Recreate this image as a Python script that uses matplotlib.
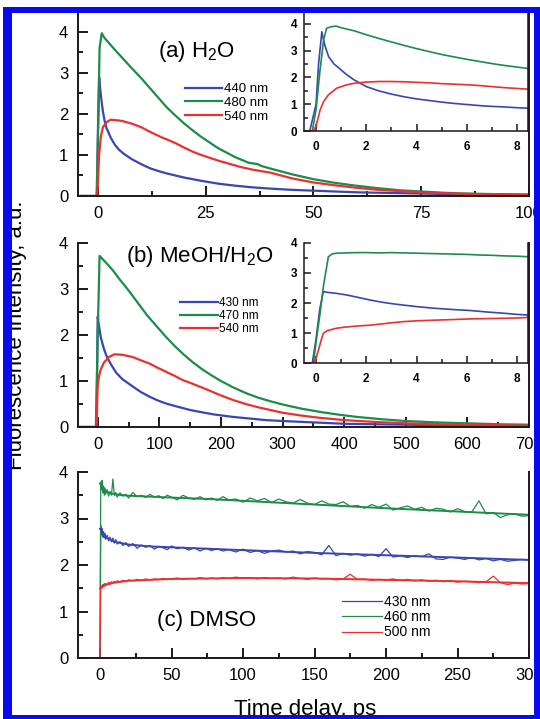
import matplotlib.pyplot as plt
from matplotlib.patches import Rectangle
from matplotlib.ticker import MultipleLocator

plt.rcParams['font.family'] = ['Liberation Sans', 'DejaVu Sans']
plt.rcParams['mathtext.fontset'] = 'custom'
plt.rcParams['mathtext.rm'] = 'Liberation Sans'
plt.rcParams['mathtext.it'] = 'Liberation Sans:italic'

BLUE = '#3846b4'
GREEN = '#1e8c48'
RED = '#ea3030'

# (a) H2O, full decay
a_t_440 = [-4, -0.2, 0, 0.3, 0.6, 0.9, 1.2, 1.6, 2, 3, 4, 5, 6, 8, 10, 12, 14, 16, 18, 20,
           24, 28, 32, 36, 40, 45, 50, 55, 60, 65, 70, 80, 90, 100]
a_440 = [0, 0, 1.5, 2.9, 2.55, 2.28, 2.05, 1.82, 1.66, 1.42, 1.24, 1.12, 1.03, 0.89, 0.78, 0.68,
         0.61, 0.55, 0.5, 0.45, 0.37, 0.3, 0.25, 0.21, 0.18, 0.15, 0.13, 0.11, 0.09, 0.08, 0.07,
         0.05, 0.04, 0.03]
a_t_480 = [-4, -0.3, 0, 0.4, 0.9, 1.5, 2.5, 4, 6, 8, 10, 12, 14, 16, 18, 20, 22, 24, 26, 28,
           30, 32, 35, 37, 38, 40, 45, 50, 55, 60, 65, 70, 75, 80, 85, 90, 95, 100]
a_480 = [0, 0, 1.2, 3.6, 3.97, 3.86, 3.74, 3.56, 3.33, 3.1, 2.88, 2.64, 2.4, 2.16, 1.96, 1.77,
         1.6, 1.44, 1.3, 1.16, 1.05, 0.94, 0.81, 0.78, 0.73, 0.67, 0.53, 0.41, 0.32, 0.25, 0.19,
         0.14, 0.11, 0.08, 0.06, 0.05, 0.04, 0.03]
a_t_540 = [-4, -0.2, 0, 0.3, 0.7, 1.2, 2, 3, 4, 5, 6, 8, 10, 12, 14, 15, 16, 18, 20, 22, 24,
           26, 28, 30, 33, 36, 40, 45, 50, 55, 60, 65, 70, 75, 80, 90, 100]
a_540 = [0, 0, 0.3, 1.0, 1.45, 1.68, 1.8, 1.86, 1.85, 1.84, 1.82, 1.76, 1.68, 1.57, 1.47, 1.42,
         1.38, 1.29, 1.18, 1.08, 1.0, 0.93, 0.86, 0.8, 0.71, 0.64, 0.57, 0.43, 0.33, 0.26, 0.2,
         0.15, 0.12, 0.09, 0.07, 0.04, 0.03]

# (a) inset, first 8 ps
ai_t_440 = [-0.5, -0.25, 0, 0.1, 0.23, 0.35, 0.5, 0.7, 0.9, 1.2, 1.5, 2, 2.5, 3, 3.5, 4, 4.5,
            5, 5.5, 6, 6.5, 7, 7.5, 8, 8.5]
ai_440 = [0, 0, 1.0, 2.5, 3.71, 3.2, 2.78, 2.52, 2.36, 2.12, 1.92, 1.66, 1.5, 1.38, 1.28, 1.2,
          1.14, 1.08, 1.03, 0.99, 0.95, 0.92, 0.9, 0.87, 0.85]
ai_t_480 = [-0.5, -0.15, 0, 0.15, 0.3, 0.42, 0.6, 0.8, 1, 1.5, 2, 2.5, 3, 3.5, 4, 4.5, 5, 5.5,
            6, 6.5, 7, 7.5, 8, 8.5]
ai_480 = [0, 0, 0.8, 2.2, 3.4, 3.84, 3.9, 3.92, 3.86, 3.75, 3.6, 3.46, 3.33, 3.2, 3.08, 2.97,
          2.86, 2.77, 2.68, 2.6, 2.52, 2.45, 2.39, 2.33]
ai_t_540 = [-0.5, -0.1, 0, 0.1, 0.16, 0.3, 0.49, 0.82, 1.2, 1.5, 2, 2.5, 3, 3.5, 4, 4.5, 5, 5.5,
            6, 6.5, 7, 7.5, 8, 8.5]
ai_540 = [0, 0, 0.2, 0.55, 0.78, 1.1, 1.35, 1.6, 1.72, 1.78, 1.83, 1.85, 1.85, 1.84, 1.82, 1.8,
          1.77, 1.75, 1.73, 1.7, 1.66, 1.62, 1.59, 1.56]

# (b) MeOH/H2O
b_t_430 = [-30, -2, 0, 2, 5, 10, 15, 22, 30, 40, 57, 70, 84, 97, 111, 130, 150, 165, 190, 219,
           250, 273, 300, 350, 400, 450, 500, 600, 700]
b_430 = [0, 0, 2.4, 2.2, 1.95, 1.7, 1.52, 1.35, 1.18, 1.04, 0.88, 0.76, 0.66, 0.58, 0.51, 0.44,
         0.37, 0.33, 0.27, 0.22, 0.18, 0.15, 0.13, 0.1, 0.07, 0.06, 0.05, 0.03, 0.02]
b_t_470 = [-30, -3, 0, 3, 8, 15, 25, 35, 50, 65, 80, 95, 110, 125, 140, 155, 170, 185, 200, 220,
           240, 260, 280, 300, 330, 360, 390, 420, 460, 500, 550, 600, 650, 700]
b_470 = [0, 0, 2.0, 3.72, 3.65, 3.55, 3.4, 3.22, 2.97, 2.7, 2.43, 2.2, 1.97, 1.76, 1.57, 1.4,
         1.25, 1.12, 1.0, 0.86, 0.74, 0.64, 0.56, 0.49, 0.4, 0.33, 0.27, 0.22, 0.17, 0.13, 0.1,
         0.08, 0.06, 0.05]
b_t_540 = [-30, -2, 0, 2, 5, 10, 18, 27, 40, 57, 70, 84, 97, 111, 125, 138, 152, 165, 180, 192,
           205, 219, 240, 260, 280, 300, 330, 360, 400, 450, 500, 550, 600, 650, 700]
b_540 = [0, 0, 0.9, 1.1, 1.25, 1.4, 1.52, 1.58, 1.57, 1.52, 1.45, 1.38, 1.29, 1.2, 1.11, 1.02,
         0.95, 0.88, 0.8, 0.73, 0.66, 0.59, 0.5, 0.43, 0.37, 0.31, 0.25, 0.2, 0.15, 0.11, 0.08,
         0.06, 0.05, 0.04, 0.03]

# (b) inset
bi_t_430 = [-0.5, -0.15, 0, 0.15, 0.29, 0.5, 0.82, 1.2, 1.6, 2.15, 2.6, 3, 3.48, 4, 4.5, 4.8,
            5.5, 6.14, 6.8, 7.46, 8, 8.45]
bi_430 = [0, 0, 0.8, 1.8, 2.38, 2.35, 2.32, 2.27, 2.2, 2.1, 2.03, 1.98, 1.93, 1.88, 1.84, 1.82,
          1.78, 1.75, 1.7, 1.66, 1.62, 1.6]
bi_t_470 = [-0.5, -0.1, 0, 0.16, 0.3, 0.49, 0.65, 0.82, 1.2, 1.6, 2, 2.5, 3, 3.5, 4, 4.5, 5,
            5.5, 6, 6.5, 7, 7.5, 8, 8.5]
bi_470 = [0, 0, 0.7, 1.66, 2.6, 3.54, 3.64, 3.66, 3.67, 3.68, 3.68, 3.67, 3.68, 3.67, 3.66, 3.65,
          3.64, 3.63, 3.62, 3.6, 3.59, 3.57, 3.56, 3.54]
bi_t_540 = [-0.5, -0.1, 0, 0.1, 0.2, 0.29, 0.45, 0.82, 1.2, 1.6, 2.15, 2.8, 3.48, 4.1, 4.8, 5.5,
            6.14, 6.8, 7.46, 8, 8.45]
bi_540 = [0, 0, 0.15, 0.45, 0.75, 0.99, 1.08, 1.16, 1.2, 1.23, 1.26, 1.32, 1.38, 1.41, 1.43, 1.45,
          1.47, 1.48, 1.49, 1.5, 1.52]

# (c) DMSO, measured traces
c_t = [-15, -1, 0, 0.5, 1, 1.5, 2, 2.5, 3, 3.5,
       4, 5, 6, 7, 8, 9, 10, 11, 12, 14,
       16, 18, 20, 23, 26, 29, 32, 35, 38, 41,
       44, 47, 50, 54, 58, 62, 66, 70, 74, 78,
       82, 86, 90, 95, 100, 105, 110, 115, 120, 125,
       130, 135, 140, 145, 150, 155, 160, 165, 170, 175,
       180, 185, 190, 195, 200, 205, 210, 215, 220, 225,
       230, 235, 240, 245, 250, 255, 260, 265, 270, 275,
       280, 285, 290, 295, 300]
c_430 = [0, 0, 0, 2.85, 2.65, 2.78, 2.6, 2.72, 2.58, 2.68,
         2.55, 2.64, 2.52, 2.6, 2.5, 2.58, 2.47, 2.55, 2.45, 2.5,
         2.42, 2.48, 2.4, 2.46, 2.36, 2.43, 2.38, 2.42, 2.34, 2.4,
         2.37, 2.33, 2.41, 2.35, 2.38, 2.32, 2.37, 2.3, 2.36, 2.31,
         2.35, 2.3, 2.33, 2.28, 2.34, 2.27, 2.31, 2.25, 2.3, 2.32,
         2.28, 2.3, 2.24, 2.29, 2.27, 2.22, 2.42, 2.2, 2.25, 2.21,
         2.24, 2.19, 2.23, 2.18, 2.35, 2.17, 2.2, 2.16, 2.2, 2.18,
         2.24, 2.13, 2.12, 2.17, 2.15, 2.12, 2.16, 2.11, 2.14, 2.09,
         2.12, 2.08, 2.1, 2.12, 2.11]
c_460 = [0, 0, 0, 3.78, 3.62, 3.82, 3.55, 3.7, 3.5, 3.66,
         3.52, 3.62, 3.48, 3.58, 3.5, 3.85, 3.5, 3.56, 3.46, 3.55,
         3.48, 3.52, 3.44, 3.56, 3.47, 3.5, 3.45, 3.52, 3.46, 3.49,
         3.43, 3.5, 3.46, 3.4, 3.5, 3.44, 3.41, 3.47, 3.4, 3.44,
         3.39, 3.47, 3.4, 3.42, 3.35, 3.44, 3.38, 3.43, 3.34, 3.42,
         3.36, 3.33, 3.41, 3.33, 3.3, 3.38, 3.31, 3.3, 3.36, 3.26,
         3.28, 3.22, 3.3, 3.24, 3.31, 3.18, 3.23, 3.27, 3.2, 3.24,
         3.16, 3.22, 3.2, 3.14, 3.21, 3.15, 3.14, 3.38, 3.1, 3.13,
         3.02, 3.08, 3.1, 3.05, 3.06]
c_500 = [0, 0, 0, 1.48, 1.55, 1.5, 1.58, 1.53, 1.6, 1.56,
         1.6, 1.58, 1.63, 1.6, 1.64, 1.62, 1.65, 1.63, 1.66, 1.64,
         1.67, 1.65, 1.68, 1.66, 1.69, 1.67, 1.7, 1.68, 1.7, 1.69,
         1.71, 1.69, 1.7, 1.72, 1.69, 1.71, 1.7, 1.73, 1.7, 1.72,
         1.7, 1.73, 1.71, 1.74, 1.71, 1.73, 1.7, 1.73, 1.71, 1.72,
         1.7, 1.74, 1.71, 1.69, 1.72, 1.7, 1.71, 1.68, 1.7, 1.8,
         1.69, 1.7, 1.67, 1.69, 1.68, 1.7, 1.67, 1.69, 1.66, 1.68,
         1.65, 1.67, 1.64, 1.66, 1.63, 1.65, 1.64, 1.62, 1.64, 1.76,
         1.62, 1.58, 1.61, 1.59, 1.6]

# (c) fitted curves
c_fit_t = [0, 2, 5, 10, 20, 35, 50, 75, 100, 150, 200, 250, 300]
c_fit_430 = [2.78, 2.68, 2.58, 2.5, 2.44, 2.4, 2.38, 2.35, 2.32, 2.26, 2.21, 2.16, 2.11]
c_fit_460 = [3.75, 3.65, 3.57, 3.52, 3.49, 3.47, 3.45, 3.42, 3.38, 3.3, 3.22, 3.15, 3.08]
c_fit_500 = [1.5, 1.55, 1.58, 1.62, 1.66, 1.68, 1.7, 1.71, 1.72, 1.71, 1.68, 1.65, 1.61]

W, H = 540.0, 719.0


def px_axes(fig, left, right, top, bottom):
    return fig.add_axes([left / W, 1 - bottom / H, (right - left) / W, (bottom - top) / H])


def style(ax, xlim, ylim, xmaj, xmin, inset=False):
    ax.set_xlim(*xlim)
    ax.set_ylim(*ylim)
    ax.spines['top'].set_visible(False)
    for s in ['left', 'right', 'bottom']:
        ax.spines[s].set_linewidth(1.1 if inset else 1.4)
        ax.spines[s].set_color('#1a1a1a')
    ax.xaxis.set_major_locator(MultipleLocator(xmaj))
    ax.xaxis.set_minor_locator(MultipleLocator(xmin))
    ax.yaxis.set_major_locator(MultipleLocator(1))
    ax.yaxis.set_minor_locator(MultipleLocator(0.5))
    ax.tick_params(which='both', direction='in', top=False, right=False, color='#1a1a1a')
    if inset:
        ax.tick_params(which='major', length=5, width=1.1, labelsize=8.5)
        ax.tick_params(which='minor', length=3, width=1.1)
        ax.tick_params(axis='x', pad=7)
        ax.tick_params(axis='y', pad=5)
        plt.setp(ax.get_xticklabels() + ax.get_yticklabels(), fontweight='bold')
    else:
        ax.tick_params(which='major', length=7, width=1.4, labelsize=12, pad=7)
        ax.tick_params(which='minor', length=3.5, width=1.4)


def legend(ax, x, y, size, hl):
    ax.legend(loc='center left', bbox_to_anchor=(x, y), frameon=False, fontsize=size,
              handlelength=hl, handletextpad=0.15, labelspacing=0.1, borderpad=0,
              borderaxespad=0)


fig = plt.figure(figsize=(5.4, 7.19), dpi=100)

# panel (a)
ax = px_axes(fig, 78, 529, 13.5, 196)
ax.plot(a_t_440, a_440, color=BLUE, lw=1.6, label='440 nm')
ax.plot(a_t_480, a_480, color=GREEN, lw=1.6, label='480 nm')
ax.plot(a_t_540, a_540, color=RED, lw=1.6, label='540 nm')
style(ax, (-4.6, 100), (0, 4.45), 25, 12.5)
legend(ax, 0.237, 0.51, 9.5, 2.8)
ax.text(0.262, 0.79, '(a) H$_2$O', transform=ax.transAxes, fontsize=16,
        ha='center', va='center')

ins = px_axes(fig, 304, 528, 13.3, 131)
ins.plot(ai_t_440, ai_440, color=BLUE, lw=1.2)
ins.plot(ai_t_480, ai_480, color=GREEN, lw=1.2)
ins.plot(ai_t_540, ai_540, color=RED, lw=1.2)
style(ins, (-0.48, 8.44), (0, 4.4), 2, 1, inset=True)

# panel (b)
ax = px_axes(fig, 78, 529, 243, 427)
ax.plot(b_t_430, b_430, color=BLUE, lw=1.6, label='430 nm')
ax.plot(b_t_470, b_470, color=GREEN, lw=1.6, label='470 nm')
ax.plot(b_t_540, b_540, color=RED, lw=1.6, label='540 nm')
style(ax, (-32, 700), (0, 4), 100, 50)
legend(ax, 0.226, 0.603, 8.5, 3.2)
ax.text(0.27, 0.924, '(b) MeOH/H$_2$O', transform=ax.transAxes, fontsize=16,
        ha='center', va='center')

ins = px_axes(fig, 304, 528, 243, 363)
ins.plot(bi_t_430, bi_430, color=BLUE, lw=1.2)
ins.plot(bi_t_470, bi_470, color=GREEN, lw=1.2)
ins.plot(bi_t_540, bi_540, color=RED, lw=1.2)
style(ins, (-0.48, 8.44), (0, 4), 2, 1, inset=True)

# panel (c)
ax = px_axes(fig, 78, 529, 472, 658)
ax.plot(c_t, c_430, color=BLUE, lw=0.9, label='430 nm')
ax.plot(c_t, c_460, color=GREEN, lw=0.9, label='460 nm')
ax.plot(c_t, c_500, color=RED, lw=0.9, label='500 nm')
ax.plot(c_fit_t, c_fit_430, color=BLUE, lw=1.4)
ax.plot(c_fit_t, c_fit_460, color=GREEN, lw=1.4)
ax.plot(c_fit_t, c_fit_500, color=RED, lw=1.4)
style(ax, (-15.4, 300), (0, 4), 50, 25)
legend(ax, 0.585, 0.22, 10, 2.9)
ax.text(0.286, 0.204, '(c) DMSO', transform=ax.transAxes, fontsize=16,
        ha='center', va='center')

fig.text(17 / W, 1 - 335 / H, 'Fluorescence intensity, a.u.', rotation=90,
         fontsize=16, ha='center', va='center')
fig.text(305 / W, 1 - 710 / H, 'Time delay, ps', fontsize=16, ha='center', va='center')

# blue frame around the figure
frame = '#0a0af0'
for x0, y0, x1, y1 in [(3, 7, 12, 719), (3, 7, 540, 13), (534, 7, 540, 719), (3, 715, 540, 719)]:
    fig.add_artist(Rectangle((x0 / W, 1 - y1 / H), (x1 - x0) / W, (y1 - y0) / H,
                             transform=fig.transFigure, color=frame, lw=0, zorder=10))

plt.savefig('out.png', dpi=100)
